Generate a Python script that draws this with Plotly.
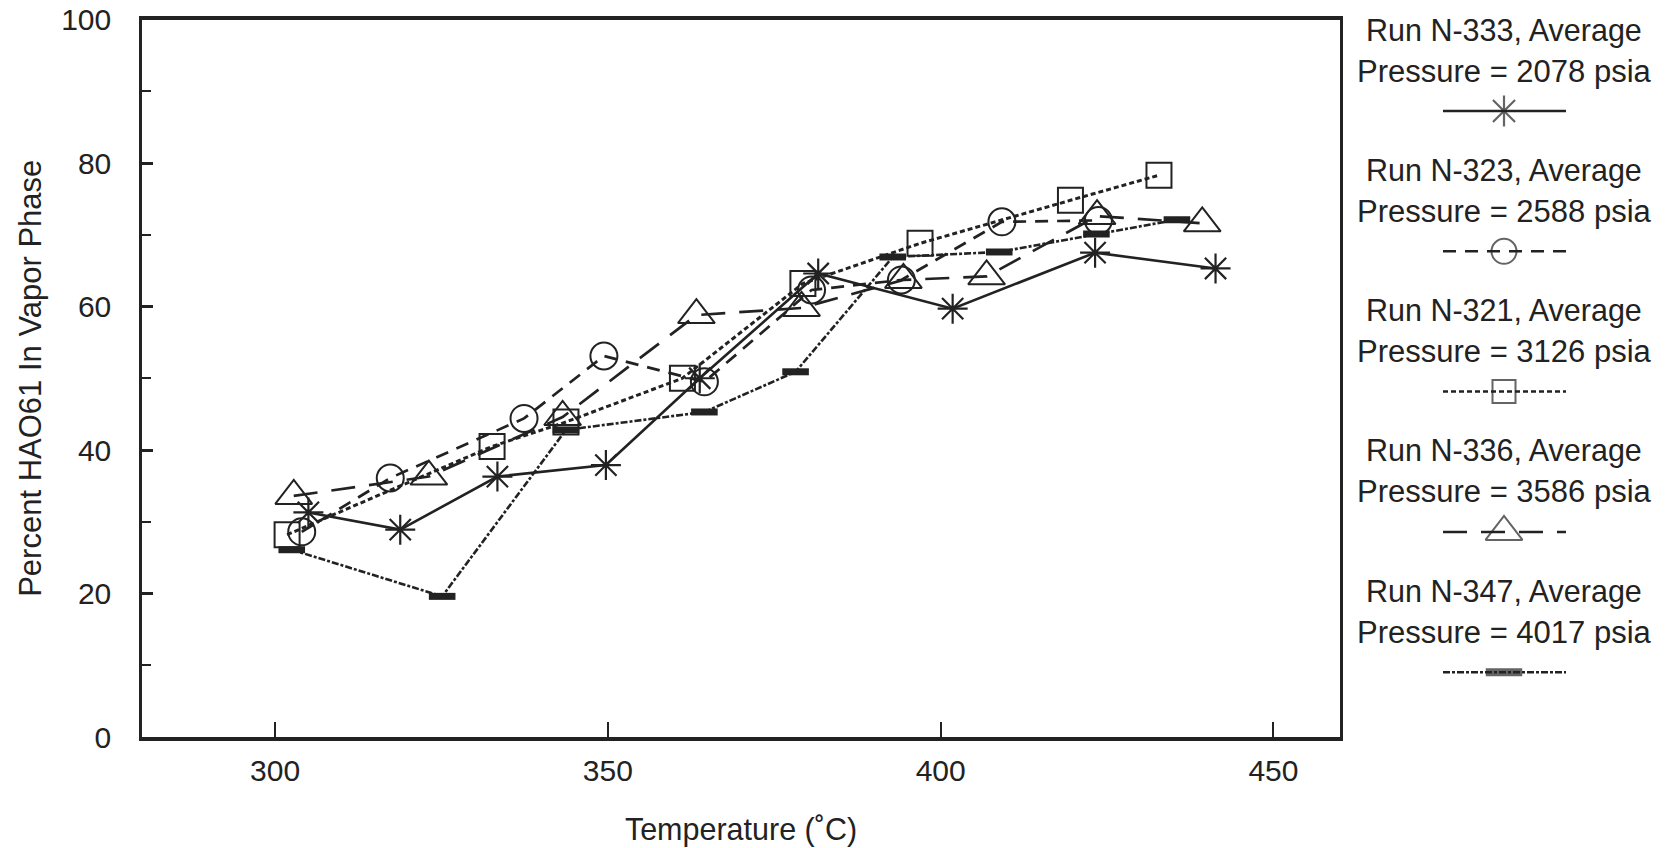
import plotly.graph_objects as go

# ---------------- data ----------------
series_names = ["Run N-333", "Run N-323", "Run N-321", "Run N-336", "Run N-347"]
pressures = [2078, 2588, 3126, 3586, 4017]

n333_temp = [305.0, 318.8, 333.4, 349.7, 363.8, 381.6, 401.8, 423.2, 441.3]
n333_vap = [31.3, 28.9, 36.3, 37.9, 50.0, 64.6, 59.7, 67.5, 65.3]

n323_temp = [304.0, 317.3, 337.4, 349.4, 364.5, 380.6, 394.1, 409.2, 423.7]
n323_vap = [28.6, 36.1, 44.4, 53.1, 49.5, 62.3, 63.7, 71.8, 72.0]

n321_temp = [301.8, 332.6, 343.7, 361.2, 379.3, 396.9, 419.5, 432.8]
n321_vap = [28.2, 40.5, 43.9, 50.0, 63.2, 68.8, 74.8, 78.3]

n336_temp = [302.8, 323.1, 343.2, 363.3, 379.1, 394.4, 406.9, 423.5, 439.3]
n336_vap = [33.6, 36.3, 44.6, 58.8, 59.8, 63.7, 64.2, 72.6, 71.6]

n347_temp = [302.5, 325.1, 343.7, 364.5, 378.2, 392.8, 408.8, 423.4, 435.5]
n347_vap = [26.1, 19.6, 42.8, 45.3, 50.9, 66.9, 67.6, 70.1, 72.1]

x_ticks = [300, 350, 400, 450]
y_ticks = [0, 20, 40, 60, 80, 100]

# ---------------- styles ----------------
INK = "#222222"
FONT = "Liberation Sans, Arial, Helvetica, sans-serif"
W, H = 1669, 848

styles = [
    dict(dash="solid", width=2.6, symbol="asterisk-open", size=25, mlw=2.2, lsize=26),
    dict(dash="13px,9px", width=2.7, symbol="circle-open", size=27, mlw=2.0, lsize=25),
    dict(dash="5px,3px", width=3.0, symbol="square-open", size=25, mlw=2.0, lsize=23),
    dict(dash="24px,14px", width=2.7, symbol="triangle-up-open", size=32, mlw=2.0, lsize=32),
    dict(dash="7px,2px,3px,2px", width=2.6, symbol="line-ew-open", size=19, mlw=7, lsize=26),
]

data = [
    (n333_temp, n333_vap),
    (n323_temp, n323_vap),
    (n321_temp, n321_vap),
    (n336_temp, n336_vap),
    (n347_temp, n347_vap),
]

fig = go.Figure()

for (tx, vy), st, name in zip(data, styles, series_names):
    fig.add_trace(go.Scatter(
        x=tx, y=vy, mode="lines+markers", name=name,
        line=dict(color=INK, width=st["width"], dash=st["dash"]),
        marker=dict(symbol=st["symbol"], size=st["size"], color=INK,
                    line=dict(color=INK, width=st["mlw"])),
        showlegend=False, xaxis="x", yaxis="y",
    ))

# ---------------- custom legend (text above, sample line below) ----------------
leg_cx = 1504
leg_x0, leg_x1 = 1443, 1566
row_step = 140.3
text1_y0, text2_y0, sym_y0 = 30, 71, 111
LEG_FONT = 30.5

annotations = []
for i, (st, name, p) in enumerate(zip(styles, series_names, pressures)):
    sy = sym_y0 + row_step * i
    fig.add_trace(go.Scatter(
        x=[leg_x0, leg_cx, leg_x1], y=[sy, sy, sy], mode="lines+markers",
        line=dict(color=INK, width=min(st["width"], 2.5), dash=st["dash"]),
        marker=dict(symbol=st["symbol"], size=[0, st["lsize"], 0], color=INK,
                    line=dict(color=INK, width=st["mlw"] + (1 if st["mlw"] > 5 else 0))),
        showlegend=False, xaxis="x2", yaxis="y2", hoverinfo="skip",
    ))
    annotations.append(dict(x=leg_cx, y=text1_y0 + row_step * i, xref="x2", yref="y2",
                            text=f"{name}, Average", showarrow=False,
                            font=dict(family=FONT, size=LEG_FONT, color=INK),
                            xanchor="center", yanchor="middle"))
    annotations.append(dict(x=leg_cx, y=text2_y0 + row_step * i, xref="x2", yref="y2",
                            text=f"Pressure = {p} psia", showarrow=False,
                            font=dict(family=FONT, size=LEG_FONT + 0.5, color=INK),
                            xanchor="center", yanchor="middle"))

plot_l, plot_r, plot_t, plot_b = 142, 1340, 19.5, 737

fig.update_layout(
    width=W, height=H,
    margin=dict(l=0, r=0, t=0, b=0),
    paper_bgcolor="white", plot_bgcolor="white",
    font=dict(family=FONT, color=INK, size=28),
    annotations=annotations,
    xaxis=dict(
        domain=[plot_l / W, plot_r / W], range=[280, 460],
        tickmode="array", tickvals=x_ticks, ticktext=[str(v) for v in x_ticks],
        ticks="inside", ticklen=15, tickwidth=1.6, tickcolor=INK,
        showline=True, linecolor=INK, linewidth=3.5, mirror=True,
        showgrid=False, zeroline=False, automargin=False,
        tickfont=dict(size=30, family=FONT, color=INK),
        ticklabelstandoff=4,
        title=dict(text="Temperature (˚C)", font=dict(size=30.5, family=FONT, color=INK), standoff=34),
        anchor="y",
    ),
    yaxis=dict(
        domain=[(H - plot_b) / H, (H - plot_t) / H], range=[0, 100],
        tickmode="array", tickvals=y_ticks, ticktext=[str(v) for v in y_ticks],
        ticks="inside", ticklen=11, tickwidth=2.5, tickcolor=INK,
        minor=dict(dtick=10, ticks="inside", ticklen=9, tickwidth=2.2, tickcolor=INK),
        showline=True, linecolor=INK, linewidth=2.5, mirror=True,
        showgrid=False, zeroline=False, automargin=False,
        tickfont=dict(size=30, family=FONT, color=INK),
        ticklabelstandoff=22,
        title=dict(text="Percent HAO61 In Vapor Phase", font=dict(size=31, family=FONT, color=INK), standoff=11),
        anchor="x",
    ),
    xaxis2=dict(domain=[1341 / W, 1.0], range=[1341, W], visible=False, fixedrange=True, anchor="y2"),
    yaxis2=dict(domain=[0, 1], range=[H, 0], visible=False, fixedrange=True, anchor="x2"),
)

fig.write_html("out.html")
